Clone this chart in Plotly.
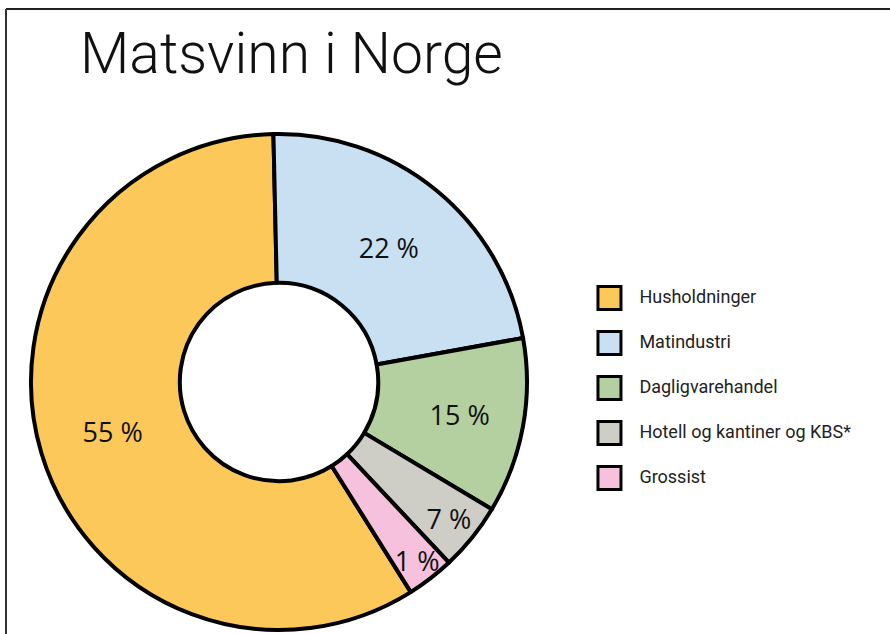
import plotly.graph_objects as go

categories = ["Husholdninger", "Matindustri", "Dagligvarehandel",
              "Hotell og kantiner og KBS*", "Grossist"]
drawn_share = [58.5, 22.5, 11.4, 4.4, 3.1]
printed_labels = ["55 %", "22 %", "15 %", "7 %", "1 %"]
colors = ["#FDC85A", "#C8E0F2", "#B5D0A0", "#CFCEC6", "#F5C1DC"]

W, H = 890, 634

fig = go.Figure()

fig.add_trace(go.Pie(
    labels=categories,
    values=drawn_share,
    text=printed_labels,
    textinfo="text",
    texttemplate="%{text}",
    textposition="inside",
    insidetextorientation="horizontal",
    textfont=dict(family="Open Sans, Noto Sans, sans-serif", size=27, color="#111111"),
    marker=dict(colors=colors, line=dict(color="#000000", width=4)),
    hole=0.4,
    sort=False,
    direction="clockwise",
    rotation=147.9,
    domain=dict(x=[31 / W, 527 / W], y=[1 - 630 / H, 1 - 134 / H]),
    showlegend=False,
    hoverinfo="label+text",
))

# Hand-built legend drawn on a hidden categorical axis
fig.add_trace(go.Scatter(
    x=[0.212] * len(categories),
    y=categories,
    mode="markers",
    marker=dict(symbol="square", size=23, color=colors,
                line=dict(color="#000000", width=3)),
    showlegend=False,
    hoverinfo="skip",
))
fig.add_trace(go.Scatter(
    x=[0.296] * len(categories),
    y=categories,
    mode="text",
    text=categories,
    textposition="middle right",
    textfont=dict(family="Roboto, Lato, sans-serif", size=18, color="#222222"),
    showlegend=False,
    hoverinfo="skip",
))

fig.update_layout(
    width=W, height=H,
    margin=dict(l=0, r=0, t=0, b=0),
    paper_bgcolor="white",
    plot_bgcolor="rgba(0,0,0,0)",
    title=dict(
        text="Matsvinn i Norge",
        x=80 / W, xanchor="left",
        y=1 - 53 / H, yanchor="middle",
        font=dict(family="Roboto, Lato, sans-serif", size=57, color="#111111", weight=300),
    ),
    xaxis=dict(domain=[534 / W, 1.0], range=[0, 1], visible=False, fixedrange=True),
    yaxis=dict(domain=[1 - 500.5 / H, 1 - 275.5 / H], range=[4.5, -0.5],
               type="category", visible=False, fixedrange=True),
    uniformtext=dict(minsize=27, mode="show"),
    shapes=[
        dict(type="line", xref="paper", yref="paper",
             x0=6 / W, x1=1.0, y0=1 - 9 / H, y1=1 - 9 / H,
             line=dict(color="#222222", width=2)),
        dict(type="line", xref="paper", yref="paper",
             x0=6 / W, x1=6 / W, y0=1 - 9 / H, y1=0,
             line=dict(color="#333333", width=2)),
    ],
)

fig.write_html("out.html", config={"displayModeBar": False},
               post_script="document.body.style.margin='0';")
